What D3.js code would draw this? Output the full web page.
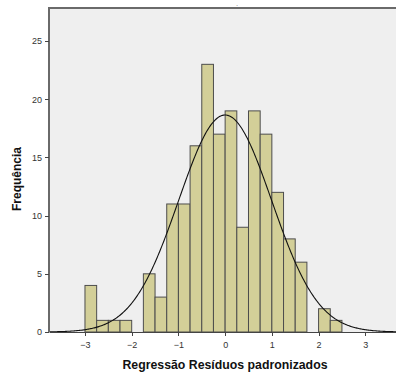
<!DOCTYPE html>
<style>
body { margin: 0; background-color: #ffffff; }
svg { display: block; }
.axis text { font: 9px "Liberation Sans", Arial, sans-serif; fill: #333; }
.axis path, .axis line { stroke: #444; shape-rendering: crispEdges; }
</style>
<svg width="396" height="373"></svg>
<script src="https://d3js.org/d3.v7.min.js"></script>
<script>
// bin lower edges (width 0.25) and counts
var binStarts = [-3, -2.75, -2.5, -2.25, -2, -1.75, -1.5, -1.25, -1, -0.75, -0.5, -0.25,
                 0, 0.25, 0.5, 0.75, 1, 1.25, 1.5, 1.75, 2, 2.25];
var counts = [4, 1, 1, 1, 0, 5, 3, 11, 11, 16, 23, 17, 19, 9, 19, 17, 12, 8, 6, 0, 2, 1];
var binWidth = 0.25;
var xTicks = [-3, -2, -1, 0, 1, 2, 3];
var yTicks = [0, 5, 10, 15, 20, 25];
// normal curve parameters
var curveMean = 0.0, curveSd = 0.995;

var svg = d3.select("svg"),
    margin = {top: 8, right: -2, bottom: 41, left: 49},
    width = +svg.attr("width") - margin.left - margin.right,
    height = +svg.attr("height") - margin.top - margin.bottom,
    g = svg.append("g").attr("transform", "translate(" + margin.left + "," + margin.top + ")");

var x = d3.scaleLinear().domain([-3.77, 3.70]).range([0, width]);
var y = d3.scaleLinear().domain([0, 27.84]).range([height, 0]);

var data = binStarts.map(function(s, i) { return {x0: s, x1: s + binWidth, n: counts[i]}; });
var total = d3.sum(counts);

// plot background
g.append("rect")
    .attr("width", width)
    .attr("height", height)
    .attr("fill", "#efefef");

g.append("g")
  .selectAll("rect")
  .data(data.filter(function(d) { return d.n > 0; }))
  .enter().append("rect")
    .attr("x", function(d) { return x(d.x0); })
    .attr("y", function(d) { return y(d.n); })
    .attr("width", function(d) { return x(d.x1) - x(d.x0); })
    .attr("height", function(d) { return y(0) - y(d.n); })
    .attr("fill", "#d3cf98")
    .attr("stroke", "#4d4d4d")
    .attr("stroke-width", 1);

// normal curve
var pts = d3.range(0, 401).map(function(i) {
  var xv = x.domain()[0] + i * (x.domain()[1] - x.domain()[0]) / 400;
  var z = (xv - curveMean) / curveSd;
  return [xv, total * binWidth * Math.exp(-z * z / 2) / (curveSd * Math.sqrt(2 * Math.PI))];
});
g.append("path")
    .datum(pts)
    .attr("fill", "none")
    .attr("stroke", "#111")
    .attr("stroke-width", 1.1)
    .attr("d", d3.line().x(function(d) { return x(d[0]); }).y(function(d) { return y(d[1]); }));

// frame (top and left)
g.append("path")
    .attr("d", "M0," + height + "V0H" + width)
    .attr("fill", "none")
    .attr("stroke", "#6a6a6a")
    .attr("stroke-width", 2);

g.append("g")
    .attr("class", "axis")
    .attr("transform", "translate(0," + height + ")")
    .call(d3.axisBottom(x).tickValues(xTicks).tickSize(4).tickSizeOuter(0).tickFormat(d3.format("d")))
    .call(function(a) { a.select(".domain").attr("stroke", "#222"); a.selectAll("text").attr("dy", "0.95em"); });

g.append("g")
    .attr("class", "axis")
    .call(d3.axisLeft(y).tickValues(yTicks).tickSize(4).tickSizeOuter(0))
    .call(function(a) { a.select(".domain").remove(); });

svg.append("text")
    .attr("x", 225)
    .attr("y", 369)
    .attr("text-anchor", "middle")
    .attr("font-family", "Liberation Sans, Arial, sans-serif")
    .attr("font-weight", "bold")
    .attr("font-size", 12.3)
    .attr("fill", "#111")
    .text("Regressão Resíduos padronizados");

svg.append("text")
    .attr("transform", "translate(21,179) rotate(-90)")
    .attr("text-anchor", "middle")
    .attr("font-family", "Liberation Sans, Arial, sans-serif")
    .attr("font-weight", "bold")
    .attr("font-size", 12)
    .attr("fill", "#111")
    .text("Frequência");

svg.append("text")
    .attr("x", 237)
    .attr("y", 6)
    .attr("text-anchor", "middle")
    .attr("font-family", "Liberation Sans, Arial, sans-serif")
    .attr("font-size", 6)
    .attr("fill", "#111")
    .text(".");
</script>
